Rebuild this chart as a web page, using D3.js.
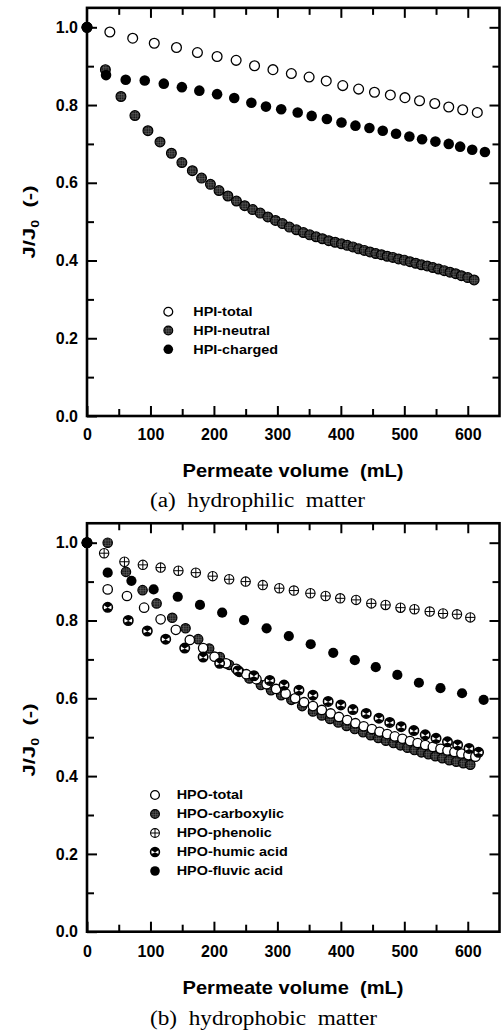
<!DOCTYPE html>
<html><head><meta charset="utf-8">
<script src="https://cdn.jsdelivr.net/npm/d3@7"></script>
<style>
body{margin:0;background:#fff;}
svg{display:block;}
text{font-family:"Liberation Sans",Arial,sans-serif;}
text.serif{font-family:"Liberation Serif","Times New Roman",serif;}
</style></head><body>
<svg id="c" width="501" height="1030"></svg>
<script>
// ---------- data ----------
const xTickValues = [0,100,200,300,400,500,600];
const xMinorTicks = [50,150,250,350,450,550];
const yTickValues = [0,0.2,0.4,0.6,0.8,1.0];
const yMinorTicks = [0.1,0.3,0.5,0.7,0.9];

const hpiTotal = [[0,1.0],[36,0.988],[72,0.972],[106,0.959],[141,0.948],[174,0.935],[205,0.925],[235,0.915],[264,0.901],[293,0.891],[322,0.881],[350,0.872],[377,0.862],[403,0.850],[428,0.841],[453,0.833],[478,0.826],[501,0.819],[524,0.811],[548,0.804],[570,0.795],[592,0.788],[615,0.781]];
const hpiNeutral = [[0,1.0],[29,0.891],[53.5,0.822],[75.5,0.773],[96,0.734],[115,0.705],[133,0.676],[149.5,0.652],[166,0.631],[180.5,0.612],[194.5,0.596],[208,0.580],[222,0.566],[235.5,0.553],[248.5,0.541],[261,0.531],[273,0.522],[285,0.512],[297,0.503],[308,0.495],[319,0.486],[330,0.479],[341,0.472],[351,0.466],[361,0.461],[371,0.456],[381,0.451],[391,0.447],[401,0.443],[410,0.439],[419,0.435],[428,0.430],[437,0.426],[446,0.422],[455,0.418],[464,0.415],[473,0.411],[482,0.408],[491,0.404],[500,0.401],[509,0.397],[518,0.393],[527,0.389],[536,0.386],[545,0.382],[554,0.378],[563,0.374],[572,0.370],[581,0.366],[590,0.361],[600,0.356],[610,0.350]];
const hpiCharged = [[0,1.0],[30,0.877],[61,0.865],[91,0.863],[121,0.855],[149.5,0.846],[177,0.837],[205,0.828],[232,0.818],[259,0.806],[282,0.796],[306,0.789],[332,0.781],[354,0.772],[378,0.764],[401,0.755],[423,0.747],[445,0.741],[466,0.734],[487,0.726],[508,0.719],[528,0.712],[549,0.706],[570,0.700],[588,0.693],[607,0.685],[627,0.679]];

const hpoTotal = [[0,1.0],[32.6,0.880],[63,0.863],[90,0.833],[116,0.803],[140,0.776],[162,0.750],[183,0.729],[201,0.707],[219,0.690],[235,0.676],[251,0.662],[267,0.649],[283,0.636],[298,0.624],[313,0.612],[328,0.600],[342,0.590],[356,0.580],[370,0.570],[384,0.561],[397,0.552],[410,0.544],[423,0.536],[436,0.528],[449,0.521],[461,0.514],[473,0.508],[485,0.502],[497,0.496],[509,0.490],[521,0.485],[533,0.480],[545,0.475],[557,0.470],[568,0.466],[579,0.462],[590,0.458],[601,0.454],[612,0.450]];
const hpoCarboxylic = [[0,1.0],[32.6,1.0],[61.4,0.925],[87.6,0.878],[109.7,0.844],[134.3,0.807],[155.3,0.780],[175.2,0.752],[192.5,0.728],[209.3,0.706],[224,0.686],[240,0.668],[256,0.651],[274,0.634],[290,0.621],[306,0.608],[322,0.596],[339,0.580],[356,0.566],[370,0.556],[383,0.547],[396,0.538],[409,0.529],[422,0.521],[435,0.513],[447,0.505],[459,0.498],[471,0.491],[483,0.485],[494,0.479],[505,0.473],[516,0.467],[527,0.461],[538,0.456],[549,0.451],[560,0.446],[571,0.441],[582,0.437],[593,0.433],[604,0.429]];
const hpoPhenolic = [[0,1.0],[27,0.973],[59,0.951],[88,0.943],[116,0.936],[144,0.928],[171.5,0.923],[198,0.914],[224,0.906],[250,0.900],[277,0.891],[303,0.883],[326,0.877],[352,0.870],[376,0.863],[399,0.857],[424,0.853],[448,0.844],[470.5,0.840],[494,0.833],[516,0.829],[540,0.823],[561,0.818],[583,0.816],[604,0.808]];
const hpoHumic = [[0,1.0],[32.6,0.834],[65,0.800],[95,0.773],[124,0.752],[154,0.729],[183,0.706],[209,0.690],[238,0.671],[263,0.658],[288,0.646],[310.5,0.634],[334,0.621],[356,0.608],[380,0.592],[400,0.583],[419,0.571],[440,0.561],[460,0.549],[477,0.538],[495,0.527],[515,0.517],[533,0.506],[550,0.497],[568,0.488],[584,0.480],[602,0.471],[617,0.461]];
const hpoFluvic = [[0,1.0],[32.6,0.923],[70,0.902],[105,0.880],[143,0.861],[178,0.840],[213,0.820],[247.5,0.801],[283,0.780],[318,0.760],[352.5,0.739],[388,0.717],[422,0.698],[455,0.680],[489,0.660],[523,0.640],[557,0.626],[591,0.613],[625,0.596]];

const legendA = ["HPI-total","HPI-neutral","HPI-charged"];
const legendB = ["HPO-total","HPO-carboxylic","HPO-phenolic","HPO-humic acid","HPO-fluvic acid"];

// ---------- drawing ----------
const svg = d3.select("#c");
const defs = svg.append("defs");
const pat = defs.append("pattern").attr("id","hatch").attr("patternUnits","userSpaceOnUse")
  .attr("width",2.4).attr("height",2.4);
pat.append("rect").attr("width",2.4).attr("height",2.4).attr("fill","#141414");
pat.append("path").attr("d","M0,0.6H2.4M0.6,0V2.4").attr("stroke","#707070").attr("stroke-width",0.55);

function drawMarker(g, type, r){
  const sw = 1.3;
  if(type==="open"){
    g.append("circle").attr("r",r).attr("fill","#fff").attr("stroke","#000").attr("stroke-width",sw);
  } else if(type==="filled"){
    g.append("circle").attr("r",r+0.4).attr("fill","#000");
  } else if(type==="hatch"){
    g.append("circle").attr("r",r).attr("fill","url(#hatch)").attr("stroke","#000").attr("stroke-width",1.2);
  } else if(type==="plus"){
    g.append("circle").attr("r",r).attr("fill","#fff").attr("stroke","#000").attr("stroke-width",1.1);
    g.append("path").attr("d",`M${-r},0H${r}M0,${-r}V${r}`).attr("stroke","#000").attr("stroke-width",1);
  } else if(type==="hourglass"){
    const a = 62*Math.PI/180;
    const cx = r*Math.sin(a), cy = r*Math.cos(a);
    g.append("circle").attr("r",r).attr("fill","#fff");
    g.append("path").attr("d",`M0,0.6L${-cx},${-cy}A${r},${r} 0 0 1 ${cx},${-cy}Z M0,0.6L${cx},${cy}A${r},${r} 0 0 1 ${-cx},${cy}Z`).attr("fill","#000");
    g.append("circle").attr("r",r).attr("fill","none").attr("stroke","#000").attr("stroke-width",1.6);
  }
}

function panel(cfg){
  const x = d3.scaleLinear().domain([0,650]).range([87,499.5]);
  const pxPerUnit = cfg.bottom - cfg.y1;
  const y = d3.scaleLinear().domain([0,1.05]).range([cfg.bottom, cfg.bottom - 1.05*pxPerUnit]);
  const top = y(1.05);
  const g = svg.append("g");

  const styleAxis = sel => { sel.select(".domain").remove(); sel.selectAll(".tick line").attr("stroke","#000").attr("stroke-width",2); };
  const labelStyle = sel => sel.selectAll("text").attr("font-size",16).attr("font-weight","bold").attr("fill","#000");

  g.append("g").attr("transform",`translate(0,${cfg.bottom})`)
    .call(d3.axisBottom(x).tickValues(xTickValues).tickSize(-10).tickPadding(cfg.xPad).tickFormat(d3.format("d")))
    .call(styleAxis).call(labelStyle);
  g.append("g").attr("transform",`translate(0,${cfg.bottom})`)
    .call(d3.axisBottom(x).tickValues(xMinorTicks).tickSize(-7).tickFormat("")).call(styleAxis);
  g.append("g").attr("transform",`translate(0,${top})`)
    .call(d3.axisTop(x).tickValues(xTickValues.slice(1)).tickSize(-10).tickFormat("")).call(styleAxis);
  g.append("g").attr("transform",`translate(0,${top})`)
    .call(d3.axisTop(x).tickValues(xMinorTicks).tickSize(-7).tickFormat("")).call(styleAxis);
  g.append("g").attr("transform",`translate(87,0)`)
    .call(d3.axisLeft(y).tickValues(yTickValues).tickSize(-10).tickPadding(9).tickFormat(d3.format(".1f")))
    .call(styleAxis).call(labelStyle);
  g.append("g").attr("transform",`translate(87,0)`)
    .call(d3.axisLeft(y).tickValues(yMinorTicks).tickSize(-7).tickFormat("")).call(styleAxis);
  g.append("g").attr("transform",`translate(499.5,0)`)
    .call(d3.axisRight(y).tickValues(yTickValues.slice(1)).tickSize(-10).tickFormat("")).call(styleAxis);
  g.append("g").attr("transform",`translate(499.5,0)`)
    .call(d3.axisRight(y).tickValues(yMinorTicks).tickSize(-7).tickFormat("")).call(styleAxis);

  g.append("rect").attr("x",87).attr("y",top).attr("width",499.5-87).attr("height",cfg.bottom-top)
    .attr("fill","none").attr("stroke","#000").attr("stroke-width",2.6);

  cfg.series.forEach(s => {
    g.append("g").selectAll("g").data(s.data).join("g")
      .attr("transform", d => `translate(${x(d[0])},${y(d[1])})`)
      .each(function(){ drawMarker(d3.select(this), s.type, cfg.r); });
  });

  // legend
  cfg.legend.forEach((name,i) => {
    const s = cfg.series.find(q => q.name === name);
    const yy = cfg.legY + i*cfg.legStep;
    const mg = g.append("g").attr("transform",`translate(${cfg.legIconX},${yy})`);
    drawMarker(mg, s.type, 4.4);
    g.append("g").attr("transform",`translate(${cfg.legTextX},${yy}) scale(1.2,1)`)
      .append("text").attr("dy","0.36em").attr("font-size",12).attr("font-weight","bold").text(name);
  });

  // y title
  const yt = g.append("text").attr("transform",`translate(35,${cfg.yTitleY}) rotate(-90) scale(1.3,1)`)
    .attr("text-anchor","middle").attr("font-size",17).attr("font-weight","bold").style("white-space","pre");
  yt.append("tspan").text("J/J");
  yt.append("tspan").attr("font-size",11).attr("dy",4).text("0");
  yt.append("tspan").attr("dy",-4).text("  (-)");

  // x title
  g.append("text").attr("x",293).attr("y",cfg.xTitleY).attr("text-anchor","middle")
    .attr("font-size",18.5).attr("font-weight","bold").style("white-space","pre")
    .attr("textLength",221).attr("lengthAdjust","spacingAndGlyphs").text("Permeate volume  (mL)");

  // caption
  g.append("text").attr("class","serif").attr("x",150).attr("y",cfg.capY)
    .attr("font-size",20).style("white-space","pre")
    .attr("textLength",cfg.capLen).attr("lengthAdjust","spacingAndGlyphs").text(cfg.caption);
}

panel({
  bottom:416, y1:27.3, xPad:13, r:4.9,
  series:[
    {name:"HPI-total", data:hpiTotal, type:"open"},
    {name:"HPI-neutral", data:hpiNeutral, type:"hatch"},
    {name:"HPI-charged", data:hpiCharged, type:"filled"}
  ],
  legend:legendA, legIconX:168.3, legTextX:193.3, legY:311.7, legStep:18.8,
  yTitleY:222, xTitleY:476.5, caption:"(a)  hydrophilic  matter", capY:507, capLen:215
});

panel({
  bottom:931.7, y1:542.7, xPad:14, r:4.7,
  series:[
    {name:"HPO-phenolic", data:hpoPhenolic, type:"plus"},
    {name:"HPO-carboxylic", data:hpoCarboxylic, type:"hatch"},
    {name:"HPO-total", data:hpoTotal, type:"open"},
    {name:"HPO-humic acid", data:hpoHumic, type:"hourglass"},
    {name:"HPO-fluvic acid", data:hpoFluvic, type:"filled"}
  ],
  legend:legendB, legIconX:155, legTextX:176.7, legY:795, legStep:19,
  yTitleY:740, xTitleY:993.5, caption:"(b)  hydrophobic  matter", capY:1025, capLen:227
});
</script>
</body></html>
